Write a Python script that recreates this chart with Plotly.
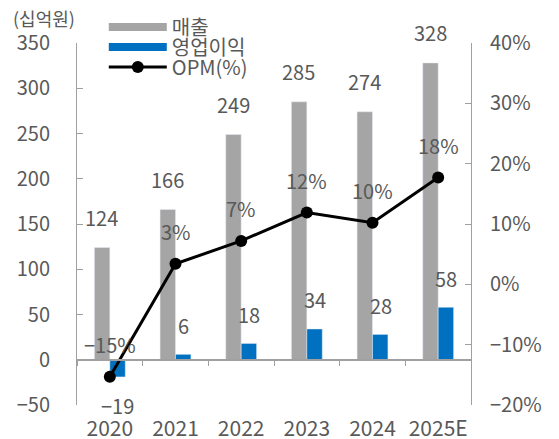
import plotly.graph_objects as go

# ---- data ----
years = ["2020", "2021", "2022", "2023", "2024", "2025E"]
sales = [124, 166, 249, 285, 274, 328]          # 매출 (십억원)
op_profit = [-19, 6, 18, 34, 28, 58]            # 영업이익 (십억원)
opm = [-15.3, 3.4, 7.2, 11.9, 10.2, 17.7]       # OPM (%)

y_range = [-50, 350]
y_ticks = [-50, 0, 50, 100, 150, 200, 250, 300, 350]
y2_range = [-20, 40]

GRAY = "#A5A5A5"
BLUE = "#0070C0"
TXT = "#595959"
AXIS = "#A0A0A0"
FONT = "Noto Sans CJK KR"
FS = 20


def fmt(v, suffix=""):
    return (f"{v}{suffix}").replace("-", "\u2212")


fig = go.Figure()

# legend entries (long rectangle symbols), one legend per row
fig.add_trace(go.Scatter(x=[None], y=[None], mode="lines", name="매출",
                         line=dict(color=GRAY, width=8), hoverinfo="skip",
                         legend="legend"))
fig.add_trace(go.Scatter(x=[None], y=[None], mode="lines", name="영업이익",
                         line=dict(color=BLUE, width=8), hoverinfo="skip",
                         legend="legend2"))

fig.add_trace(go.Bar(x=years, y=sales, name="매출", marker_color=GRAY,
                     showlegend=False))
fig.add_trace(go.Bar(x=years, y=op_profit, name="영업이익", marker_color=BLUE,
                     showlegend=False))
fig.add_trace(go.Scatter(x=years, y=opm, name="OPM(%)", xaxis="x2", yaxis="y2",
                         mode="lines+markers", legend="legend3",
                         line=dict(color="black", width=3),
                         marker=dict(color="black", size=12)))

ann = []
for i, v in enumerate(sales):
    ann.append(dict(x=i, y=v, xref="x", yref="y", text=fmt(v), showarrow=False,
                    xshift=-8, yshift=30, yanchor="middle",
                    font=dict(family=FONT, size=FS, color=TXT)))
for i, v in enumerate(op_profit):
    ann.append(dict(x=i, y=v, xref="x", yref="y", text=fmt(v), showarrow=False,
                    xshift=8, yshift=29 if v >= 0 else -29, yanchor="middle",
                    font=dict(family=FONT, size=FS, color=TXT)))
for i, v in enumerate(opm):
    ann.append(dict(x=i, y=v, xref="x2", yref="y2", text=fmt(round(v), "%"),
                    showarrow=False, yshift=32, yanchor="middle",
                    font=dict(family=FONT, size=FS, color=TXT)))
ann.append(dict(x=-0.084, y=1.069, xref="paper", yref="paper", text="(십억원)",
                showarrow=False, xanchor="center", yanchor="middle",
                font=dict(family=FONT, size=18, color=TXT)))

zero_pos = (0 - y_range[0]) / (y_range[1] - y_range[0])

leg_common = dict(x=0.068, xanchor="left", yanchor="middle",
                  bgcolor="rgba(0,0,0,0)", itemwidth=58,
                  font=dict(family=FONT, size=FS, color=TXT))

# page body has an 8px default margin: size/margins compensate so the plot
# area lands at the same window position as the reference
fig.update_layout(
    width=551, height=431,
    margin=dict(l=69, r=88, t=35, b=34, autoexpand=False),
    paper_bgcolor="white", plot_bgcolor="white",
    barmode="group", bargap=0.53, bargroupgap=0,
    font=dict(family=FONT, size=FS, color=TXT),
    showlegend=True,
    legend=dict(y=1.044, **leg_common),
    legend2=dict(y=0.989, **leg_common),
    legend3=dict(y=0.934, **leg_common),
    annotations=ann,
    xaxis=dict(type="category", range=[-0.5, 5.5], anchor="free",
               position=zero_pos, showline=True, linecolor=AXIS, linewidth=1.5,
               ticks="outside", tickson="boundaries", ticklen=5,
               tickcolor=AXIS, showticklabels=False, showgrid=False,
               zeroline=False, fixedrange=True),
    xaxis2=dict(type="category", range=[-0.5, 5.5], overlaying="x",
                anchor="y", side="bottom", showline=False, ticks="",
                showticklabels=True, ticklabelstandoff=9, showgrid=False,
                zeroline=False, tickfont=dict(family=FONT, size=21, color=TXT)),
    yaxis=dict(range=y_range, tickvals=y_ticks, showline=True, linecolor=AXIS,
               linewidth=1, ticks="inside", ticklen=6, tickcolor=AXIS,
               showgrid=False, zeroline=False, ticklabelstandoff=22,
               tickfont=dict(family=FONT, size=FS, color=TXT)),
    yaxis2=dict(range=y2_range, dtick=10, overlaying="y", side="right",
                anchor="x2", ticksuffix="%", showline=True, linecolor=AXIS,
                linewidth=1, ticks="inside", ticklen=6, tickcolor=AXIS,
                showgrid=False, zeroline=False, ticklabelstandoff=14,
                tickfont=dict(family=FONT, size=FS, color=TXT)),
)

fig.write_html("out.html")
